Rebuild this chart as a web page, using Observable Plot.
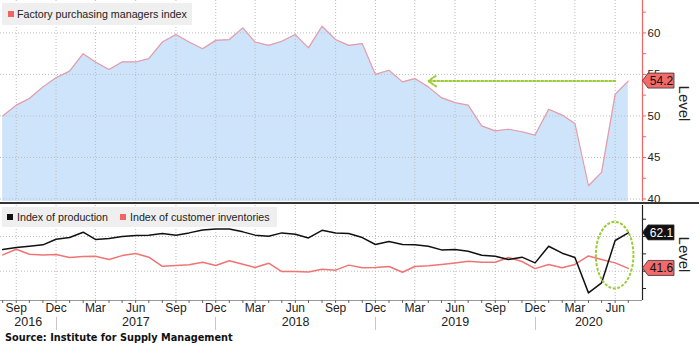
<!DOCTYPE html>
<html><head><meta charset="utf-8">
<script src="https://cdn.jsdelivr.net/npm/d3@7"></script>
<script src="https://cdn.jsdelivr.net/npm/@observablehq/plot@0.6"></script>
<style>
html,body{margin:0;padding:0;background:#fff;}
#chart{position:relative;width:699px;height:350px;overflow:hidden;font-family:"Liberation Sans",Arial,sans-serif;color:#222;}
#chart svg{position:absolute;left:0;}
.abs{position:absolute;}
.lg{position:absolute;background:#efefef;}
.sq{position:absolute;width:6px;height:6px;}
.lt{position:absolute;font-size:10.7px;white-space:nowrap;color:#222;}
</style></head><body><div id="chart"></div>
<script>
// ---- data ----
const startMonth = "2016-08-01";
const endMonth = "2020-07-01";
const pmi = [50.0,51.3,52.1,53.5,54.6,55.4,57.5,56.5,55.6,56.5,56.5,56.9,
             58.9,59.8,58.9,58.1,59.1,59.2,60.6,58.9,58.5,59.0,59.8,58.2,
             60.8,59.2,58.5,58.7,55.0,55.5,54.1,54.5,53.5,52.2,51.6,51.3,
             48.8,48.2,48.4,48.1,47.7,50.8,50.1,49.1,41.6,43.2,52.6,54.2];
const production = [52.5,53.7,54.4,55.2,58.4,59.4,62.5,58.3,58.8,60.0,60.6,60.8,
                    61.7,60.8,62.1,63.8,64.4,64.4,62.7,60.8,60.2,62.1,61.3,59.2,
                    63.6,62.1,61.7,59.4,55.4,57.1,55.4,55.2,54.4,52.3,52.5,51.5,
                    49.2,48.6,46.7,48.1,44.8,54.4,50.4,47.9,27.5,33.3,57.7,62.1];
const inventories = [49.4,52.7,49.8,49.4,49.6,47.9,48.5,48.6,46.7,49.0,50.2,48.1,
                     42.8,43.3,43.7,45.2,43.3,46.0,44.0,42.1,44.6,39.8,39.8,39.6,
                     41.1,40.6,43.5,42.0,42.1,42.7,39.4,42.7,43.1,43.9,44.8,45.8,
                     45.2,45.2,47.9,45.6,41.5,43.9,42.0,43.9,48.8,46.7,44.8,41.6];
const legendTop = ["Factory purchasing managers index"];
const legendBottom = ["Index of production", "Index of customer inventories"];
const yearLabels = ["2016", "2017", "2018", "2019", "2020"];
const quarterMonths = [8, 11, 2, 5]; // Sep, Dec, Mar, Jun (labelled)
const topTicks = [40, 45, 50, 55, 60];
const topMinorTicks = [42.5, 47.5, 52.5, 57.5, 62.5];
const topGrid = [40, 45, 50, 55, 60];
const bottomTicks = [30, 40, 50, 60, 70];
const bottomGrid = [40, 60];
const sourceText = "Source: Institute for Supply Management";
const arrowNote = {from: "2020-06-01", to: "2019-04-01", level: 54.2};
const ellipseNote = {date: "2020-06-01", value: 49, halfDays: 43, halfUnits: 19.2};

// ---- build ----
const months = d3.utcMonth.range(new Date(startMonth), d3.utcMonth.offset(new Date(endMonth), 1));
const pmiData = months.map((date, i) => ({date, value: pmi[i]}));
const prodData = months.map((date, i) => ({date, value: production[i]}));
const invData = months.map((date, i) => ({date, value: inventories[i]}));
const quarters = months.filter(d => quarterMonths.includes(d.getUTCMonth()));
const separators = months.filter(d => d.getUTCMonth() === 11);
const xDomain = [new Date("2016-07-27T00:00Z"), new Date("2020-08-02T12:00Z")];
const bounds = [xDomain[0], ...separators, xDomain[1]];
const years = yearLabels.map((label, i) => ({label, date: new Date((+bounds[i] + +bounds[i + 1]) / 2)}));

const red = "#f06464";
const gridStyle = {stroke: "#bdbdbd", strokeDasharray: "1,2", strokeWidth: 1};
const fmtMonth = d3.utcFormat("%b");

function valueTag(value, fill, textFill) {
  return (index, scales, values, dims) => {
    const x0 = dims.width - dims.marginRight;
    const y = scales.y(value);
    const g = d3.create("svg:g");
    g.append("path")
      .attr("d", `M${x0 + 0.5},${y} L${x0 + 6},${y - 7.5} H${x0 + 32} V${y + 7.5} H${x0 + 6} Z`)
      .attr("fill", fill).attr("stroke", "#333").attr("stroke-width", 0.8);
    g.append("text").attr("x", x0 + 19.5).attr("y", y).attr("dy", "0.36em")
      .attr("text-anchor", "middle").attr("fill", textFill)
      .attr("font-size", 12).attr("font-family", "Liberation Sans, Arial, sans-serif")
      .text(d3.format(".1f")(value));
    return g.node();
  };
}

function ellipseMark(e) {
  return (index, scales) => {
    const d = new Date(e.date);
    const cx = scales.x(d), cy = scales.y(e.value);
    const rx = scales.x(d3.utcDay.offset(d, e.halfDays)) - cx;
    const ry = scales.y(e.value - e.halfUnits) - cy;
    return d3.create("svg:ellipse").attr("cx", cx).attr("cy", cy).attr("rx", rx).attr("ry", ry)
      .attr("fill", "none").attr("stroke", "#9acd32").attr("stroke-width", 2)
      .attr("stroke-dasharray", "3,1.5").node();
  };
}

function yearSeparators(dates) {
  return (index, scales, values, dims) => {
    const yb = dims.height - dims.marginBottom;
    const g = d3.create("svg:g");
    for (const d of dates) {
      const x = Math.round(scales.x(d)) + 0.5;
      g.append("line").attr("x1", x).attr("x2", x).attr("y1", yb + 17).attr("y2", yb + 30)
        .attr("stroke", "#c8c8c8").attr("stroke-width", 1);
    }
    return g.node();
  };
}

const chart = document.getElementById("chart");
const baseStyle = {fontFamily: "Liberation Sans, Arial, sans-serif", fontSize: "11.5px", color: "#222", background: "#fff", overflow: "visible"};

const topPlot = Plot.plot({
  width: 699, height: 202, marginTop: 0, marginBottom: 1, marginLeft: 0, marginRight: 57,
  style: baseStyle,
  x: {type: "utc", domain: xDomain, axis: null},
  y: {domain: [39.7, 63.9], axis: null},
  marks: [
    Plot.areaY(pmiData, {x: "date", y1: 39.7, y2: "value", fill: "#cde4fb"}),
    Plot.ruleY(topGrid, gridStyle),
    Plot.ruleX(quarters, gridStyle),
    Plot.lineY(pmiData, {x: "date", y: "value", stroke: "#e89aa6", strokeWidth: 1.2}),
    Plot.arrow([arrowNote], {x1: d => new Date(d.from), x2: d => new Date(d.to), y1: "level", y2: "level",
      stroke: "#9acd32", strokeWidth: 2, strokeDasharray: "2,2", headLength: 7, headAngle: 70}),
    Plot.ruleX([xDomain[1]], {stroke: red, strokeWidth: 1.2}),
    Plot.axisY({anchor: "right", ticks: topMinorTicks, tickSize: 3, tickFormat: () => "", stroke: red, label: null}),
    Plot.axisY({anchor: "right", ticks: topTicks, tickSize: 3, tickPadding: 2, stroke: red, fill: "#222", fontSize: 11.5, label: null}),
    Plot.text(["Level"], {text: d => d, frameAnchor: "right", textAnchor: "middle", lineAnchor: "middle", dx: 41, dy: 2.5, rotate: 90, fontSize: 15, fill: "#222"}),
    valueTag(pmi[pmi.length - 1], "#f26a6a", "#111")
  ]
});
topPlot.style.top = "0px";
chart.appendChild(topPlot);

const sep = document.createElement("div");
sep.className = "abs";
Object.assign(sep.style, {left: "0px", top: "202px", width: "699px", height: "2px", background: "#333"});
chart.appendChild(sep);

const bottomPlot = Plot.plot({
  width: 699, height: 131, marginTop: 1, marginBottom: 35, marginLeft: 0, marginRight: 57,
  style: baseStyle,
  x: {type: "utc", domain: xDomain, axis: null},
  y: {domain: [23.1, 77.9], axis: null},
  marks: [
    Plot.ruleX(quarters, gridStyle),
    Plot.ruleY(bottomGrid, gridStyle),
    Plot.ruleY([23.1], {stroke: "#999", strokeWidth: 1}),
    Plot.lineY(invData, {x: "date", y: "value", stroke: "#f07474", strokeWidth: 1.5}),
    Plot.lineY(prodData, {x: "date", y: "value", stroke: "#111", strokeWidth: 1.5}),
    ellipseMark(ellipseNote),
    Plot.ruleX([xDomain[1]], {stroke: "#222", strokeWidth: 1.2}),
    Plot.axisY({anchor: "right", ticks: bottomTicks, tickSize: 3, tickFormat: () => "", stroke: "#222", label: null}),
    Plot.axisX({anchor: "bottom", ticks: months, tickSize: 3, tickFormat: () => "", stroke: "#666", label: null}),
    Plot.text(quarters, {x: d => d, text: d => fmtMonth(d), frameAnchor: "bottom", dy: 11.5, fontSize: 12, fill: "#222"}),
    Plot.text(years, {x: "date", text: "label", frameAnchor: "bottom", dy: 25.5, fontSize: 12.5, fill: "#222"}),
    yearSeparators(separators),
    Plot.text(["Level"], {text: d => d, frameAnchor: "right", textAnchor: "middle", lineAnchor: "middle", dx: 41, dy: 1.5, rotate: 90, fontSize: 15, fill: "#222"}),
    valueTag(production[production.length - 1], "#111", "#fff"),
    valueTag(inventories[inventories.length - 1], "#f26a6a", "#111")
  ]
});
bottomPlot.style.top = "204px";
chart.appendChild(bottomPlot);

// legends
function legendBox(left, top, width, height, items) {
  const box = document.createElement("div");
  box.className = "lg";
  Object.assign(box.style, {left: left + "px", top: top + "px", width: width + "px", height: height + "px"});
  for (const it of items) {
    const sq = document.createElement("div");
    sq.className = "sq";
    Object.assign(sq.style, {left: it.sx + "px", top: (height / 2 - 3) + "px", background: it.color});
    box.appendChild(sq);
    const t = document.createElement("div");
    t.className = "lt";
    Object.assign(t.style, {left: it.tx + "px", top: "0px", lineHeight: height + "px"});
    t.textContent = it.label;
    box.appendChild(t);
  }
  chart.appendChild(box);
}
legendBox(2, 3, 190, 22, [{label: legendTop[0], color: "#f06464", sx: 6, tx: 15}]);
legendBox(2, 207, 275, 20, [
  {label: legendBottom[0], color: "#111", sx: 5, tx: 15},
  {label: legendBottom[1], color: "#f06464", sx: 118, tx: 128}
]);

const src = document.createElement("div");
src.className = "abs";
Object.assign(src.style, {left: "5px", top: "332px", fontFamily: "DejaVu Sans, sans-serif", fontWeight: "bold", fontSize: "9.75px", lineHeight: "12px", color: "#111", whiteSpace: "nowrap"});
src.textContent = sourceText;
chart.appendChild(src);
</script>
</body></html>
